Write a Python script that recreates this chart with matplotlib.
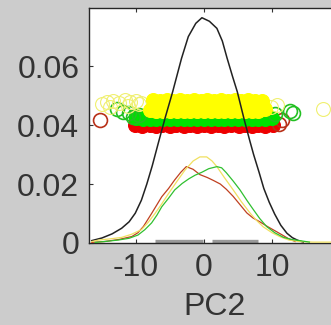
import matplotlib
matplotlib.use("Agg")
import matplotlib.pyplot as plt

# ---- density curves (x, y) ----
black_x = [-16.5, -15.0, -13.5, -12.1, -11.0, -10.1, -9.2, -8.4, -7.6, -6.7, -5.7, -4.6, -3.3, -2.3, -1.2, -0.3, 0.8, 1.9, 2.7, 3.4, 4.2, 4.9, 5.9, 6.7, 7.3, 8.1, 8.8, 9.6, 10.4, 11.3, 12.2, 13.0, 13.8, 14.6]
black_y = [0.0008, 0.0017, 0.0031, 0.0050, 0.0072, 0.0101, 0.0145, 0.0200, 0.0262, 0.0340, 0.0425, 0.0513, 0.0626, 0.0700, 0.0745, 0.0764, 0.0752, 0.0728, 0.0685, 0.0627, 0.0565, 0.0513, 0.0420, 0.0350, 0.0300, 0.0240, 0.0185, 0.0138, 0.0098, 0.0060, 0.0033, 0.0018, 0.0009, 0.0003]

red_x = [-16.5, -14.6, -12.5, -10.6, -9.7, -8.9, -7.7, -6.2, -5.2, -4.3, -3.4, -2.6, -1.6, -0.6, 0.5, 1.4, 2.4, 3.3, 4.3, 5.3, 6.3, 7.2, 8.2, 9.4, 10.7, 11.6, 12.4, 13.4]
red_y = [0.0002, 0.0005, 0.0012, 0.0022, 0.0035, 0.0056, 0.0100, 0.0157, 0.0185, 0.0214, 0.0240, 0.0259, 0.0250, 0.0232, 0.0222, 0.0212, 0.0200, 0.0182, 0.0158, 0.0130, 0.0102, 0.0085, 0.0072, 0.0055, 0.0038, 0.0026, 0.0015, 0.0005]

yellow_x = [-16.5, -15.5, -13.8, -12.1, -10.6, -9.2, -8.2, -7.2, -6.2, -5.2, -4.0, -2.8, -1.6, -0.6, 0.4, 1.2, 1.9, 3.0, 4.3, 5.5, 6.8, 7.8, 8.7, 10.0, 11.2, 12.5, 14.0, 16.0, 20.0]
yellow_y = [0.0005, 0.0010, 0.0014, 0.0019, 0.0030, 0.0045, 0.0070, 0.0100, 0.0133, 0.0168, 0.0208, 0.0247, 0.0278, 0.0292, 0.0292, 0.0278, 0.0259, 0.0222, 0.0180, 0.0140, 0.0101, 0.0075, 0.0055, 0.0035, 0.0021, 0.0010, 0.0005, 0.0003, 0.0003]

green_x = [-16.0, -14.2, -12.6, -11.0, -9.7, -8.7, -7.7, -6.9, -6.2, -5.2, -4.3, -3.2, -2.2, -1.3, -0.3, 0.7, 1.9, 2.6, 3.3, 4.3, 5.3, 6.3, 7.3, 8.2, 9.2, 10.4, 11.7, 12.9, 14.1, 15.5]
green_y = [0.0002, 0.0006, 0.0010, 0.0016, 0.0027, 0.0045, 0.0068, 0.0095, 0.0123, 0.0152, 0.0180, 0.0202, 0.0218, 0.0230, 0.0240, 0.0252, 0.0259, 0.0255, 0.0238, 0.0210, 0.0180, 0.0145, 0.0112, 0.0083, 0.0056, 0.0035, 0.0019, 0.0012, 0.0008, 0.0003]

# ---- jittered sample points (dense cores and sparse circles) ----
red_core_x = [-10.1, -9.6, -9.1, -8.5, -8.0, -7.6, -7.1, -6.5, -6.1, -5.5, -5.0, -4.6, -4.1, -3.5, -3.0, -2.6, -2.1, -1.5, -1.0, -0.5, 0.0, 0.5, 1.0, 1.5, 2.0, 2.5, 3.0, 3.5, 4.0, 4.5, 5.1, 5.5, 6.0, 6.5, 7.0, 7.5, 8.0, 8.5, 9.0, 9.6, 10.1]
red_core_y = [0.0399, 0.0404, 0.0398, 0.0403, 0.0399, 0.0404, 0.0398, 0.0403, 0.0399, 0.0404, 0.0398, 0.0403, 0.0399, 0.0404, 0.0398, 0.0403, 0.0399, 0.0404, 0.0398, 0.0403, 0.0399, 0.0404, 0.0398, 0.0403, 0.0399, 0.0404, 0.0398, 0.0403, 0.0399, 0.0404, 0.0398, 0.0403, 0.0399, 0.0404, 0.0398, 0.0403, 0.0399, 0.0404, 0.0398, 0.0403, 0.0400]
red_open_x = [-15.3, 11.4, 11.0]
red_open_y = [0.0417, 0.0417, 0.0405]

green_core_x = [-10.0, -9.5, -9.0, -8.5, -8.0, -7.5, -7.0, -6.5, -6.0, -5.5, -5.0, -4.5, -4.0, -3.5, -3.0, -2.5, -2.0, -1.5, -1.0, -0.5, 0.0, 0.5, 1.0, 1.5, 2.0, 2.5, 3.0, 3.5, 4.0, 4.5, 5.0, 5.5, 6.0, 6.5, 7.0, 7.5, 8.0, 8.5, 9.0, 9.5, 10.0]
green_core_y = [0.0424, 0.0428, 0.0421, 0.0427, 0.0420, 0.0428, 0.0421, 0.0427, 0.0420, 0.0428, 0.0421, 0.0427, 0.0420, 0.0428, 0.0421, 0.0427, 0.0420, 0.0428, 0.0421, 0.0427, 0.0420, 0.0428, 0.0421, 0.0427, 0.0420, 0.0428, 0.0421, 0.0427, 0.0420, 0.0428, 0.0421, 0.0427, 0.0420, 0.0428, 0.0421, 0.0427, 0.0420, 0.0428, 0.0421, 0.0427, 0.0424]
green_open_x = [-12.8, -11.9, -11.0, -10.4, -9.6, 12.6, 13.1, 10.5]
green_open_y = [0.0455, 0.0445, 0.0440, 0.0428, 0.0434, 0.0447, 0.0442, 0.0438]

yellow_core_x = [-8.0, -7.5, -7.0, -6.5, -6.0, -5.5, -5.0, -4.5, -4.0, -3.5, -3.0, -2.5, -2.0, -1.5, -1.0, -0.5, 0.0, 0.5, 1.0, 1.5, 2.0, 2.5, 3.0, 3.5, 4.0, 4.5, 5.0, 5.5, 6.0, 6.5, 7.0, 7.5, 8.0, 8.5, 9.0]
yellow_core_y = [0.0450, 0.0484, 0.0448, 0.0483, 0.0449, 0.0484, 0.0448, 0.0483, 0.0449, 0.0484, 0.0448, 0.0483, 0.0449, 0.0484, 0.0448, 0.0483, 0.0449, 0.0484, 0.0448, 0.0483, 0.0449, 0.0484, 0.0448, 0.0483, 0.0449, 0.0484, 0.0448, 0.0483, 0.0449, 0.0484, 0.0448, 0.0483, 0.0449, 0.0480, 0.0455]
yellow_mid_x = [-7.0, -5.0, -3.0, -1.0, 1.0, 3.0, 5.0, 7.0, 8.5]
yellow_mid_y = [0.0466, 0.0466, 0.0466, 0.0466, 0.0466, 0.0466, 0.0466, 0.0466, 0.0466]
yellow_open_x = [-15.0, -14.2, -13.3, -12.5, -11.6, -10.8, -10.0, -9.2, -13.8, -11.2, -9.6, 10.7, 9.8, 17.5]
yellow_open_y = [0.0470, 0.0478, 0.0482, 0.0476, 0.0484, 0.0478, 0.0482, 0.0476, 0.0460, 0.0465, 0.0470, 0.0468, 0.0462, 0.0456]

# gray bars along the baseline
bar_starts = [-7.2, 1.2]
bar_ends = [-0.15, 7.9]

x_ticks = [-10, 0, 10]
y_ticks = [0, 0.02, 0.04, 0.06]
y_tick_labels = ["0", "0.02", "0.04", "0.06"]

plt.rcParams['font.family'] = ['Liberation Sans', 'DejaVu Sans']
fig = plt.figure(figsize=(3.31, 3.25), dpi=100, facecolor='#cccccc')
ax = fig.add_axes([89/331, 82/325, 251/331, 235/325])
ax.set_facecolor('white')

ms = 10
# draw order: red, green, yellow (yellow on top)
ax.plot(red_core_x, red_core_y, 'o', ms=ms, mfc='#ee0000', mec='#ee0000', mew=0.8, zorder=3)
ax.plot(red_open_x, red_open_y, 'o', ms=ms, mfc='none', mec='#b83018', mew=1.2, zorder=3)
ax.plot(green_core_x, green_core_y, 'o', ms=ms, mfc='#00e000', mec='#00e000', mew=0.8, zorder=4)
ax.plot(green_open_x, green_open_y, 'o', ms=ms, mfc='none', mec='#22c022', mew=1.2, zorder=4)
ax.plot(yellow_open_x, yellow_open_y, 'o', ms=ms, mfc='none', mec='#f0f070', mew=0.8, zorder=5)
ax.plot(yellow_core_x, yellow_core_y, 'o', ms=ms, mfc='#ffff00', mec='#ffff00', mew=0.8, zorder=5)
ax.plot(yellow_mid_x, yellow_mid_y, 'o', ms=ms, mfc='#ffff00', mec='#ffff00', mew=0.8, zorder=5)

for s, e in zip(bar_starts, bar_ends):
    ax.plot([s, e], [0.0006, 0.0006], color='#999999', lw=2.4, solid_capstyle='butt', zorder=2)

ax.plot(black_x, black_y, color='#222222', lw=1.1, zorder=6)
ax.plot(red_x, red_y, color='#c04020', lw=0.9, zorder=6)
ax.plot(yellow_x, yellow_y, color='#f0e060', lw=0.9, zorder=6)
ax.plot(green_x, green_y, color='#30c030', lw=0.9, zorder=6)

ax.set_xlim(-16.9, 20.0)
ax.set_ylim(0, 0.0797)
ax.set_xticks(x_ticks)
ax.set_xticklabels([str(t) for t in x_ticks])
ax.set_yticks(y_ticks)
ax.set_yticklabels(y_tick_labels)
ax.tick_params(direction='in', length=3, width=0.8, labelsize=23, colors='#333333',
               top=True, right=False)
ax.tick_params(axis='x', pad=7)
ax.tick_params(axis='y', pad=7)
for sp in ['left', 'bottom', 'top']:
    ax.spines[sp].set_color('#262626')
    ax.spines[sp].set_linewidth(1.0)
ax.spines['right'].set_visible(False)
ax.set_xlabel('PC2', fontsize=23, color='#333333', labelpad=7)

fig.savefig('out.png', dpi=100, facecolor=fig.get_facecolor())
